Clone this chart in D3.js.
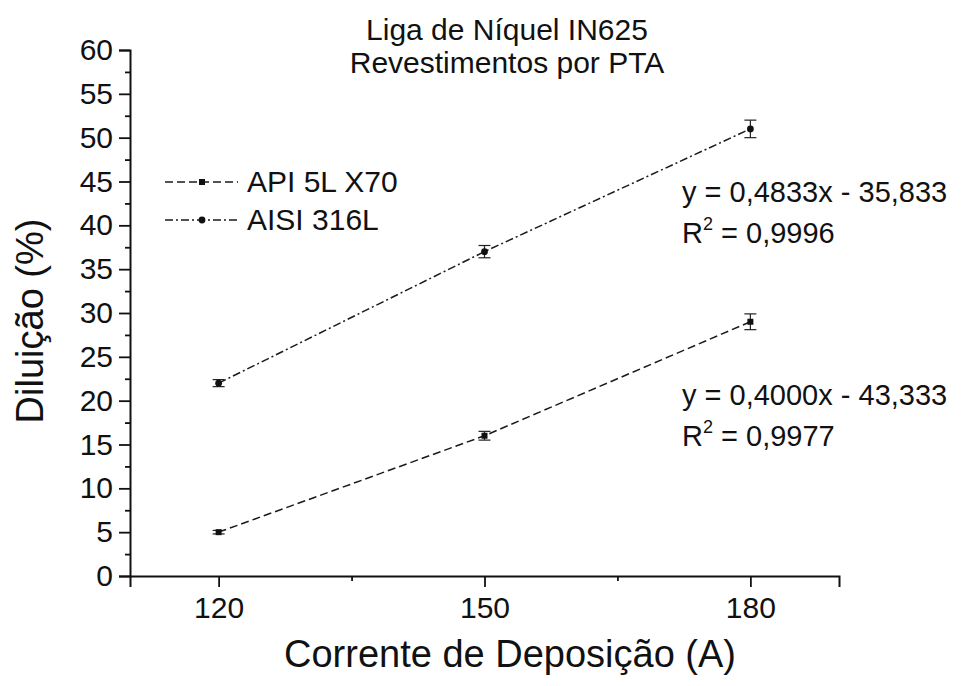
<!DOCTYPE html>
<html>
<head>
<meta charset="utf-8">
<script src="https://cdn.jsdelivr.net/npm/d3@7"></script>
<style>
  body { margin: 0; background: #fff; }
  text { font-family: "Liberation Sans", Arial, sans-serif; fill: #111; }
</style>
</head>
<body>
<div id="chart"></div>
<script>
// dados
const corrente = [120, 150, 180];
const api5l = [5, 16, 29];
const api5lErr = [0.2, 0.5, 0.9];
const aisi316 = [22, 37, 51];
const aisi316Err = [0.4, 0.7, 1.0];
const yTicks = [0, 5, 10, 15, 20, 25, 30, 35, 40, 45, 50, 55, 60];
const xTicks = [120, 150, 180];
const titulo = ["Liga de Níquel IN625", "Revestimentos por PTA"];
const equacoes = [
  { eq: "y = 0,4833x - 35,833", r2: " = 0,9996", y: 202 },
  { eq: "y = 0,4000x - 43,333", r2: " = 0,9977", y: 405 }
];

const W = 978, H = 686;
const margin = { top: 50, left: 130, right: 139, bottom: 110 };
const plotW = W - margin.left - margin.right;
const plotH = H - margin.top - margin.bottom;

let svg = d3.select('#chart').append('svg')
  .attr('width', W).attr('height', H);

let g = svg.append('g')
  .attr('transform', 'translate(' + margin.left + ',' + margin.top + ')');

let x = d3.scaleLinear().domain([110, 190]).range([0, plotW]);
let y = d3.scaleLinear().domain([0, 60]).range([plotH, 0]);

// eixo y com ticks menores
let yAxis = d3.axisLeft(y).tickValues(yTicks).tickSize(11).tickPadding(6);
let yMinor = d3.axisLeft(y).tickValues(d3.range(2.5, 60, 5)).tickSize(5).tickFormat('');
let xAxis = d3.axisBottom(x).tickValues(xTicks).tickSize(11).tickPadding(10);
let xMinor = d3.axisBottom(x).tickValues([135, 165]).tickSize(5).tickFormat('');

function estilo(sel) {
  sel.select('.domain').attr('stroke', '#111').attr('stroke-width', 2);
  sel.selectAll('.tick line').attr('stroke', '#111').attr('stroke-width', 1.8);
  sel.selectAll('.tick text').style('font-size', '30px').attr('fill', '#111')
    .style('font-family', '"Liberation Sans", Arial, sans-serif');
}

g.append('g').call(yMinor).call(estilo).select('.domain').remove();
g.append('g').call(yAxis).call(estilo);
g.append('g').attr('transform', 'translate(0,' + plotH + ')').call(xMinor).call(estilo).select('.domain').remove();
g.append('g').attr('transform', 'translate(0,' + plotH + ')').call(xAxis).call(estilo);

// series
const series = [
  { name: "API 5L X70", vals: api5l, err: api5lErr, dash: "8,4", sym: d3.symbolSquare },
  { name: "AISI 316L", vals: aisi316, err: aisi316Err, dash: "8,3,2,3", sym: d3.symbolCircle }
];

let line = d3.line().x(d => x(d[0])).y(d => y(d[1]));

series.forEach(s => {
  let pts = corrente.map((c, i) => [c, s.vals[i], s.err[i]]);
  g.append('path').datum(pts)
    .attr('d', line)
    .attr('fill', 'none')
    .attr('stroke', '#1a1a1a')
    .attr('stroke-width', 1.5)
    .attr('stroke-dasharray', s.dash);

  let eb = g.append('g').selectAll('g').data(pts).enter().append('g');
  eb.append('line')
    .attr('x1', d => x(d[0])).attr('x2', d => x(d[0]))
    .attr('y1', d => y(d[1] - d[2])).attr('y2', d => y(d[1] + d[2]))
    .attr('stroke', '#222').attr('stroke-width', 1.2);
  eb.append('line')
    .attr('x1', d => x(d[0]) - 6).attr('x2', d => x(d[0]) + 6)
    .attr('y1', d => y(d[1] + d[2])).attr('y2', d => y(d[1] + d[2]))
    .attr('stroke', '#222').attr('stroke-width', 1.2);
  eb.append('line')
    .attr('x1', d => x(d[0]) - 6).attr('x2', d => x(d[0]) + 6)
    .attr('y1', d => y(d[1] - d[2])).attr('y2', d => y(d[1] - d[2]))
    .attr('stroke', '#222').attr('stroke-width', 1.2);

  g.append('g').selectAll('path').data(pts).enter().append('path')
    .attr('d', d3.symbol().type(s.sym).size(36))
    .attr('transform', d => 'translate(' + x(d[0]) + ',' + y(d[1]) + ')')
    .attr('fill', '#111');
});

// legenda
let leg = svg.append('g').attr('transform', 'translate(165,182)');
series.forEach((s, i) => {
  let row = leg.append('g').attr('transform', 'translate(0,' + (i * 38) + ')');
  row.append('line').attr('x1', 0).attr('x2', 73).attr('y1', 0).attr('y2', 0)
    .attr('stroke', '#1a1a1a').attr('stroke-width', 1.5).attr('stroke-dasharray', s.dash);
  row.append('path').attr('d', d3.symbol().type(s.sym).size(36))
    .attr('transform', 'translate(37,0)').attr('fill', '#111');
  row.append('text').attr('x', 82).attr('y', 10).style('font-size', '30px').text(s.name);
});

// titulo
svg.append('text').attr('x', 507).attr('y', 40).attr('text-anchor', 'middle')
  .style('font-size', '30px').text(titulo[0]);
svg.append('text').attr('x', 507).attr('y', 73).attr('text-anchor', 'middle')
  .style('font-size', '30px').text(titulo[1]);

// titulos dos eixos
svg.append('text').attr('transform', 'translate(43,321) rotate(-90)')
  .attr('text-anchor', 'middle').style('font-size', '38px').text('Diluição (%)');
svg.append('text').attr('x', 510).attr('y', 667).attr('text-anchor', 'middle')
  .style('font-size', '38px').text('Corrente de Deposição (A)');

// equacoes de ajuste
equacoes.forEach(e => {
  svg.append('text').attr('x', 682).attr('y', e.y).style('font-size', '29px').text(e.eq);
  let t = svg.append('text').attr('x', 682).attr('y', e.y + 41).style('font-size', '29px');
  t.append('tspan').text('R');
  t.append('tspan').attr('dy', -13).style('font-size', '18px').text('2');
  t.append('tspan').attr('dy', 13).text(e.r2);
});
</script>
</body>
</html>
